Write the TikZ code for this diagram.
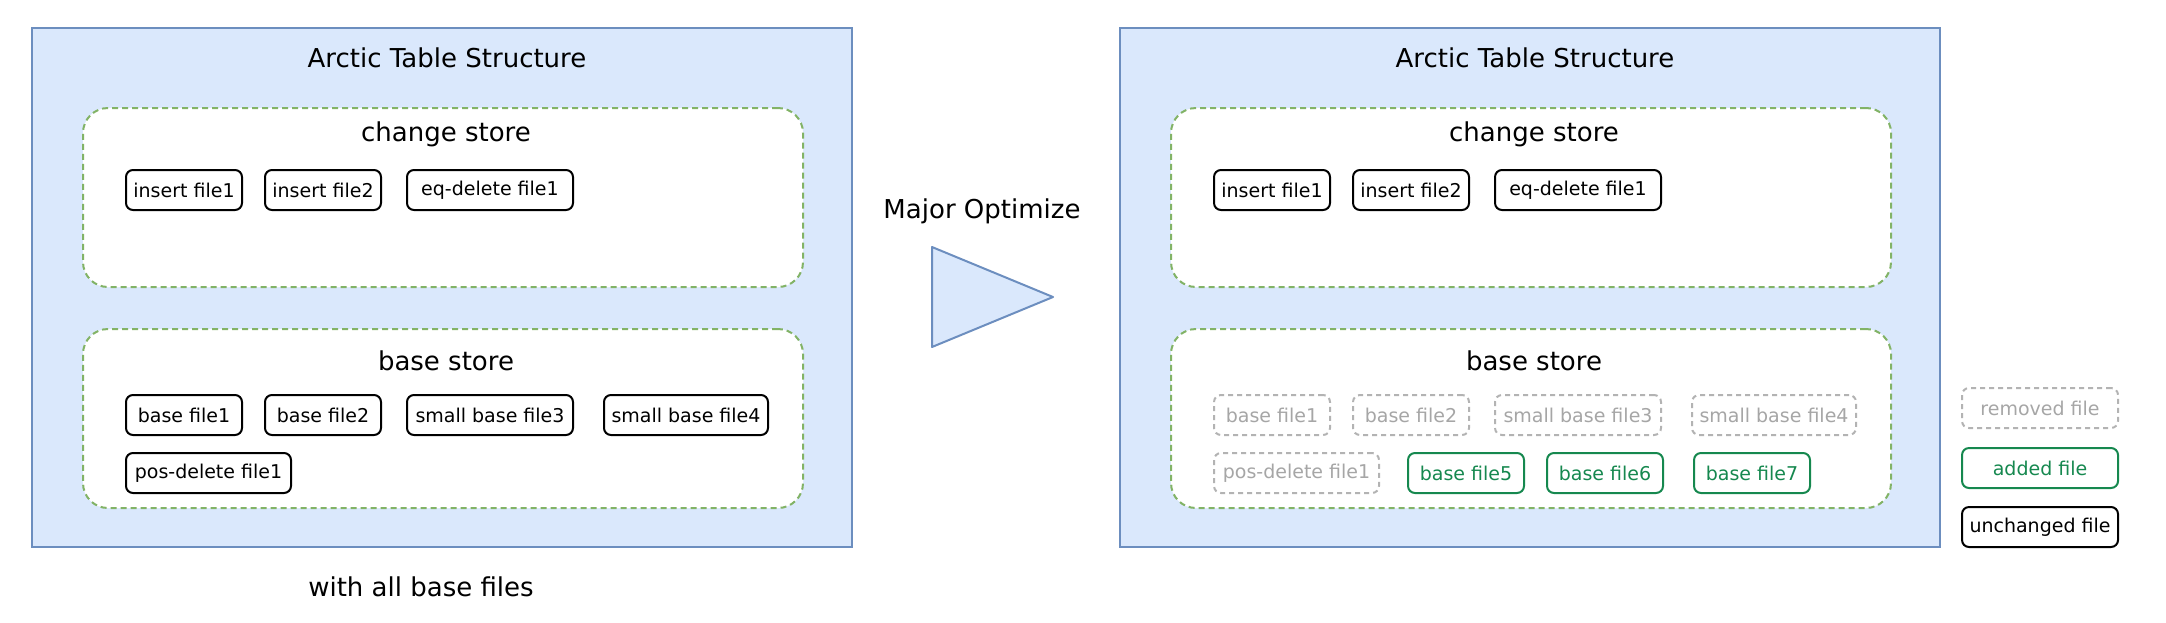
\documentclass[tikz,border=0pt]{standalone}
\usepackage{fontspec}
\setmainfont{DejaVu Sans}
\definecolor{bluefill}{HTML}{DAE8FC}
\definecolor{blueline}{HTML}{6C8EBF}
\definecolor{storeline}{HTML}{82B366}
\definecolor{greyline}{HTML}{B3B3B3}
\definecolor{greytext}{HTML}{A6A6A6}
\definecolor{addgreen}{HTML}{16884F}
\tikzset{
  outerbox/.style={draw=blueline, fill=bluefill, line width=1pt, minimum width=410pt, minimum height=259.5pt, inner sep=0pt},
  storebox/.style={draw=storeline, fill=white, dash pattern=on 3pt off 2pt, line width=1pt, rounded corners=12.5pt, minimum width=360pt, minimum height=89.5pt, inner sep=0pt},
  filebox/.style={draw=black, line width=1pt, rounded corners=3.5pt, minimum height=20pt, minimum width=58pt, inner sep=0pt, font=\fontsize{9.5}{11}\selectfont},
  removedbox/.style={filebox, draw=greyline, text=greytext, dash pattern=on 2.5pt off 2pt},
  addedbox/.style={filebox, draw=addgreen, text=addgreen},
  titletext/.style={font=\fontsize{13}{15}\selectfont, inner sep=0pt},
}
\begin{document}
\begin{tikzpicture}[x=0.5pt,y=-0.5pt]
\useasboundingbox (0,0) rectangle (2166,622);
% ---------------- left ----------------
\node[outerbox] (L) at (442,287.5) {};
\node[titletext] (Ltitle) at (447,58) {Arctic Table Structure};
\node[storebox] (Lchg) at (443,197.5) {};
\node[titletext] (Lchgt) at (446,134) {change store};
\node[filebox] (Li1) at (184,190) {insert file1};
\node[filebox] (Li2) at (323,190) {insert file2};
\node[filebox, minimum width=83pt] (Leq) at (490,190) {eq-delete file1};
\node[storebox] (Lbase) at (443,418.5) {};
\node[titletext] (Lbaset) at (446,361) {base store};
\node[filebox] (Lb1) at (184,415) {base file1};
\node[filebox] (Lb2) at (323,415) {base file2};
\node[filebox, minimum width=83pt] (Lb3) at (490,415) {small base file3};
\node[filebox, minimum width=82pt] (Lb4) at (686,415) {small base file4};
\node[filebox, minimum width=82.5pt] (Lpd) at (208.5,473) {pos-delete file1};
\node[titletext] (Lcap) at (421,587) {with all base files};
% ---------------- middle ----------------
\node[titletext] (mo) at (982,211) {Major Optimize};
\coordinate (t1) at (932,247);
\coordinate (t2) at (1053,297);
\coordinate (t3) at (932,347);
\draw[draw=blueline, fill=bluefill, line width=1pt, line join=round] (t1) -- (t2) -- (t3) -- cycle;
% ---------------- right ----------------
\node[outerbox] (R) at (1530,287.5) {};
\node[titletext] (Rtitle) at (1535,58) {Arctic Table Structure};
\node[storebox] (Rchg) at (1531,197.5) {};
\node[titletext] (Rchgt) at (1534,134) {change store};
\node[filebox] (Ri1) at (1272,190) {insert file1};
\node[filebox] (Ri2) at (1411,190) {insert file2};
\node[filebox, minimum width=83pt] (Req) at (1578,190) {eq-delete file1};
\node[storebox] (Rbase) at (1531,418.5) {};
\node[titletext] (Rbaset) at (1534,361) {base store};
\node[removedbox] (Rb1) at (1272,415) {base file1};
\node[removedbox] (Rb2) at (1411,415) {base file2};
\node[removedbox, minimum width=83pt] (Rb3) at (1578,415) {small base file3};
\node[removedbox, minimum width=82pt] (Rb4) at (1774,415) {small base file4};
\node[removedbox, minimum width=82.5pt] (Rpd) at (1296.5,473) {pos-delete file1};
\node[addedbox] (Rb5) at (1466,473) {base file5};
\node[addedbox] (Rb6) at (1605,473) {base file6};
\node[addedbox] (Rb7) at (1752,473) {base file7};
% ---------------- legend ----------------
\node[removedbox, minimum width=78pt] (lg1) at (2040,408) {removed file};
\node[addedbox, minimum width=78pt] (lg2) at (2040,468) {added file};
\node[filebox, minimum width=78pt] (lg3) at (2040,527) {unchanged file};
\end{tikzpicture}
\end{document}
